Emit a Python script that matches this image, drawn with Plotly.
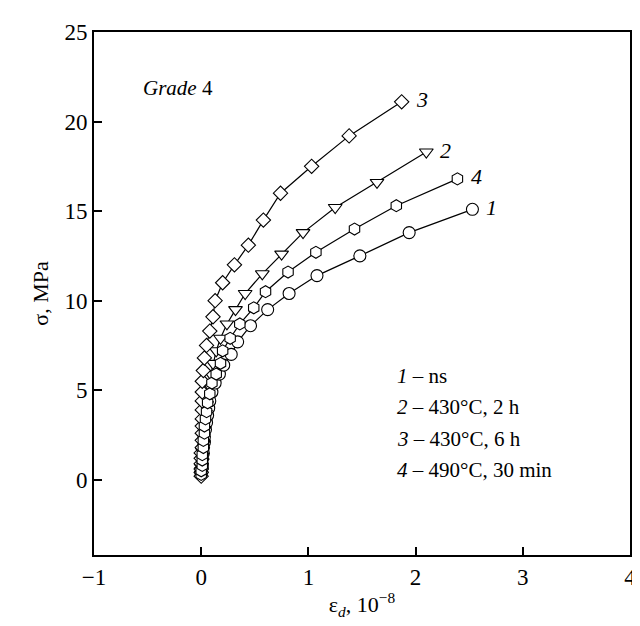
import plotly.graph_objects as go

# Curve 1 – ns (circles)
x1 = [0.00, 0.00, 0.01, 0.01, 0.01, 0.02, 0.02, 0.03, 0.03, 0.04, 0.05, 0.06, 0.07, 0.08, 0.10, 0.13,
      0.17, 0.21, 0.28, 0.34, 0.46, 0.62, 0.82, 1.08, 1.48, 1.94, 2.53]
y1 = [0.3, 0.5, 0.7, 0.9, 1.2, 1.5, 1.8, 2.1, 2.4, 2.8, 3.2, 3.6, 4.0, 4.4, 4.9, 5.4,
      5.9, 6.4, 7.0, 7.7, 8.6, 9.5, 10.4, 11.4, 12.5, 13.8, 15.1]

# Curve 2 – 430°C, 2 h (down triangles)
x2 = [0.00, 0.00, 0.00, 0.01, 0.01, 0.01, 0.02, 0.02, 0.03, 0.03, 0.04, 0.05, 0.06, 0.07, 0.09,
      0.11, 0.14, 0.18, 0.24, 0.32, 0.41, 0.57, 0.75, 0.95, 1.25, 1.64, 2.10]
y2 = [0.3, 0.5, 0.7, 1.0, 1.3, 1.6, 2.0, 2.4, 2.8, 3.2, 3.7, 4.2, 4.7, 5.3, 5.9,
      6.5, 7.2, 7.9, 8.7, 9.5, 10.4, 11.5, 12.6, 13.8, 15.2, 16.6, 18.3]

# Curve 3 – 430°C, 6 h (diamonds)
x3 = [0.00, 0.00, 0.00, 0.00, 0.00, 0.00, 0.01, 0.01, 0.01, 0.01, 0.01, 0.01, 0.01, 0.01, 0.01,
      0.02, 0.03, 0.05, 0.08, 0.11, 0.13, 0.20, 0.31, 0.44, 0.58, 0.74, 1.03, 1.38, 1.87]
y3 = [0.2, 0.4, 0.6, 0.9, 1.2, 1.5, 1.8, 2.2, 2.6, 3.0, 3.4, 3.9, 4.4, 4.9, 5.5,
      6.1, 6.8, 7.5, 8.3, 9.1, 10.0, 11.0, 12.0, 13.1, 14.5, 16.0, 17.5, 19.2, 21.1]

# Curve 4 – 490°C, 30 min (hexagons)
x4 = [0.00, 0.00, 0.01, 0.01, 0.01, 0.02, 0.02, 0.03, 0.03, 0.04, 0.05, 0.06, 0.08, 0.10,
      0.14, 0.18, 0.20, 0.27, 0.36, 0.49, 0.60, 0.81, 1.07, 1.43, 1.82, 2.39]
y4 = [0.3, 0.5, 0.8, 1.1, 1.4, 1.8, 2.2, 2.6, 3.0, 3.4, 3.8, 4.3, 4.8, 5.4,
      5.9, 6.5, 7.2, 7.9, 8.7, 9.6, 10.5, 11.6, 12.7, 14.0, 15.3, 16.8]

curve_labels = ["1", "2", "3", "4"]
legend_lines = ["<i>1</i> – ns", "<i>2</i> – 430°C, 2 h", "<i>3</i> – 430°C, 6 h",
                "<i>4</i> – 490°C, 30 min"]
x_ticks = [-1, 0, 1, 2, 3, 4]
x_tick_text = ["−1", "0", "1", "2", "3", "4"]
y_ticks = [0, 5, 10, 15, 20, 25]

FONT = "Liberation Serif"

series = [
    (x1, y1, "circle", 12),
    (x2, y2, "triangle-down", 12),
    (x3, y3, "diamond", 11),
    (x4, y4, "hexagon", 12),
]

fig = go.Figure()
for xs, ys, sym, sz in series:
    fig.add_trace(go.Scatter(
        x=xs, y=ys, mode="lines+markers",
        line=dict(color="black", width=1.2),
        marker=dict(symbol=sym, size=sz, color="white",
                    line=dict(color="black", width=1.1)),
        showlegend=False, hoverinfo="skip"))

# Curve number labels next to the last point of each curve
for (xs, ys, sym, sz), lab in zip(series, curve_labels):
    fig.add_annotation(x=xs[-1], y=ys[-1], text=f"<i>{lab}</i>", showarrow=False,
                       xanchor="left", yanchor="middle", xshift=12, yshift=2,
                       font=dict(family=FONT, size=22, color="black"))

# Legend text block
leg_y = [5.8, 4.05, 2.25, 0.55]
for t, yy in zip(legend_lines, leg_y):
    fig.add_annotation(x=1.81, y=yy, text=t, showarrow=False, xanchor="left",
                       yanchor="middle", font=dict(family=FONT, size=21, color="black"))

fig.add_annotation(x=-0.56, y=21.9, text="<i>Grade</i> 4", showarrow=False,
                   xanchor="left", yanchor="middle",
                   font=dict(family=FONT, size=21, color="black"))

fig.update_xaxes(range=[-1, 4], tickvals=x_ticks, ticktext=x_tick_text,
                 ticks="inside", ticklen=8, tickwidth=1.5, tickcolor="black",
                 showline=True, linecolor="black", linewidth=2, mirror=True,
                 showgrid=False, zeroline=False,
                 tickfont=dict(family=FONT, size=23, color="black"),
                 title=dict(text="ε<sub><i>d</i></sub>, 10<sup>−8</sup>",
                            font=dict(family=FONT, size=22, color="black"), standoff=8))
fig.update_yaxes(range=[-4.2, 25], tickvals=y_ticks,
                 ticks="inside", ticklen=8, tickwidth=1.5, tickcolor="black",
                 showline=True, linecolor="black", linewidth=2, mirror=True,
                 showgrid=False, zeroline=False,
                 tickfont=dict(family=FONT, size=23, color="black"),
                 title=dict(text="σ, MPa", font=dict(family=FONT, size=22, color="black"),
                            standoff=10))

fig.update_layout(width=640, height=626, margin=dict(l=86, r=18, t=17, b=79),
                  plot_bgcolor="white", paper_bgcolor="white",
                  font=dict(family=FONT, color="black"))

fig.write_html("out.html")
